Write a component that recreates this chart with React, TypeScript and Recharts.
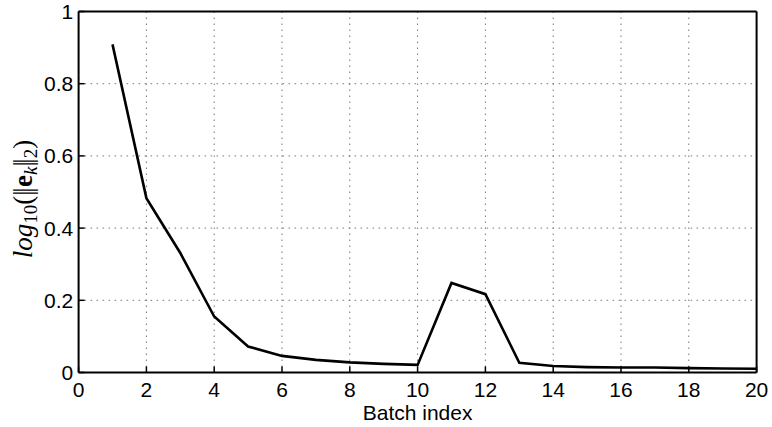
import React from 'react';
import { LineChart, Line, XAxis, YAxis, CartesianGrid } from 'recharts';

const batchIndex = [1, 2, 3, 4, 5, 6, 7, 8, 9, 10, 11, 12, 13, 14, 15, 16, 17, 18, 19, 20];
const errorLog = [0.909, 0.483, 0.331, 0.155, 0.072, 0.046, 0.035, 0.028, 0.024, 0.021, 0.248, 0.217, 0.027, 0.018, 0.015, 0.014, 0.014, 0.012, 0.011, 0.0105];
const xTicks = [0, 2, 4, 6, 8, 10, 12, 14, 16, 18, 20];
const yTicks = [0, 0.2, 0.4, 0.6, 0.8, 1];

const data = batchIndex.map((b, i) => ({ batch: b, value: errorLog[i] }));

const sans = '"Liberation Sans", Arial, Helvetica, sans-serif';
const serif = '"Liberation Serif", "DejaVu Serif", serif';

const YLabel = (props: any) => {
  const vb = props.viewBox || {};
  const x = vb.x - 6.6;
  const y = vb.y + vb.height / 2 + 7;
  return (
    <text
      x={x}
      y={y}
      transform={`rotate(-90, ${x}, ${y})`}
      textAnchor="middle"
      fontFamily={serif}
      fontSize={27}
      fill="#000"
    >
      <tspan fontStyle="italic">log</tspan>
      <tspan fontSize={19} dy={5}>10</tspan>
      <tspan dy={-5}>(</tspan>
      <tspan letterSpacing={-2.5}>||</tspan>
      <tspan dx={3} fontWeight="bold">e</tspan>
      <tspan fontStyle="italic" fontSize={19} dy={5}>k</tspan>
      <tspan dy={-5} letterSpacing={-2.5}>||</tspan>
      <tspan dx={2.5} fontSize={19} dy={5}>2</tspan>
      <tspan dy={-5}>)</tspan>
    </text>
  );
};

const XLabel = (props: any) => {
  const vb = props.viewBox || {};
  return (
    <text
      x={vb.x + vb.width / 2}
      y={vb.y + 47.5}
      textAnchor="middle"
      fontFamily={sans}
      fontSize={21}
      fill="#000"
    >
      Batch index
    </text>
  );
};

export default function App() {
  const axisLine = { stroke: '#000', strokeWidth: 2 };
  const tickLine = { stroke: '#000', strokeWidth: 1.5 };
  const tickStyle = { fill: '#000', fontFamily: sans, fontSize: 21 };
  return (
    <div style={{ position: 'absolute', left: 0, top: 0 }}>
      <LineChart
        width={772}
        height={427}
        data={data}
        margin={{ top: 10.5, right: 14.4, bottom: 14.5, left: 38.6 }}
      >
        <CartesianGrid
          xAxisId="b"
          yAxisId="l"
          stroke="#777"
          strokeDasharray="1.5 4.5"
          strokeWidth={1}
        />
        <XAxis
          xAxisId="b"
          dataKey="batch"
          type="number"
          domain={[0, 20]}
          ticks={xTicks}
          interval={0}
          height={40}
          tickSize={-6}
          tickMargin={16}
          axisLine={axisLine}
          tickLine={tickLine}
          tick={tickStyle}
          label={<XLabel />}
        />
        <XAxis
          xAxisId="t"
          orientation="top"
          dataKey="batch"
          type="number"
          domain={[0, 20]}
          ticks={xTicks}
          interval={0}
          height={1}
          tickSize={-6}
          axisLine={axisLine}
          tickLine={tickLine}
          tick={false}
        />
        <YAxis
          yAxisId="l"
          type="number"
          domain={[0, 1]}
          ticks={yTicks}
          interval={0}
          width={40}
          tickSize={-6}
          tickMargin={11.3}
          axisLine={axisLine}
          tickLine={tickLine}
          tick={tickStyle}
          tickFormatter={(v: number) => String(v)}
          label={<YLabel />}
        />
        <YAxis
          yAxisId="r"
          orientation="right"
          type="number"
          domain={[0, 1]}
          ticks={yTicks}
          interval={0}
          width={1}
          tickSize={-6}
          axisLine={axisLine}
          tickLine={tickLine}
          tick={false}
        />
        <Line
          xAxisId="b"
          yAxisId="l"
          dataKey="value"
          type="linear"
          stroke="#000"
          strokeWidth={2.6}
          dot={false}
          isAnimationActive={false}
        />
      </LineChart>
    </div>
  );
}
